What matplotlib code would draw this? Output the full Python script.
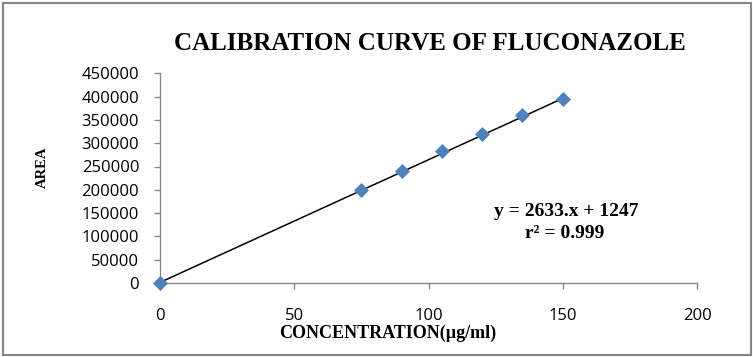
import matplotlib
matplotlib.use("Agg")
import matplotlib.pyplot as plt
from matplotlib.patches import Rectangle

# Data
concentration = [0, 75, 90, 105, 120, 135, 150]
area = [0, 199000, 241000, 283000, 319000, 360000, 395000]
slope = 2633
intercept = 1247
r_squared = 0.999
x_ticks = [0, 50, 100, 150, 200]
y_ticks = [0, 50000, 100000, 150000, 200000, 250000, 300000, 350000, 400000, 450000]

title = "CALIBRATION CURVE OF FLUCONAZOLE"
x_label = "CONCENTRATION(\u00b5g/ml)"
y_label = "AREA"

fig = plt.figure(figsize=(7.53, 3.57), dpi=100)
W, H = 753, 357
ax = fig.add_axes([160 / W, 1 - 283 / H, (697 - 160) / W, (283 - 73.3) / H])

serif_bold = dict(family=["Liberation Serif", "DejaVu Serif"], weight="bold")
tick_font = ["Open Sans", "DejaVu Sans"]

# Trendline
x_fit = [min(concentration), max(concentration)]
y_fit = [slope * x + intercept for x in x_fit]
ax.plot(x_fit, y_fit, color="black", lw=1.1, zorder=2)

ax.plot(concentration, area, linestyle="none", marker="D", markersize=7,
        color="#4F81BD", markeredgecolor="#4F81BD", markeredgewidth=0.5,
        zorder=3, clip_on=False)

ax.set_xlim(0, 200)
ax.set_ylim(0, 450000)
ax.set_xticks(x_ticks)
ax.set_yticks(y_ticks)
ax.set_xticklabels([str(v) for v in x_ticks], family=tick_font, fontsize=12)
ax.set_yticklabels([str(v) for v in y_ticks], family=tick_font, fontsize=12)

for s in ["top", "right"]:
    ax.spines[s].set_visible(False)
for s in ["left", "bottom"]:
    ax.spines[s].set_color("#868686")
    ax.spines[s].set_linewidth(1.0)
ax.tick_params(axis="both", direction="out", length=4, width=1.0, color="#868686",
               labelcolor="black")
ax.tick_params(axis="y", pad=11)
ax.tick_params(axis="x", pad=14)

fig.text(430 / W, 1 - 43 / H, title, ha="center", va="center", fontsize=18, **serif_bold)
fig.text(388 / W, 1 - 333 / H, x_label, ha="center", va="center", fontsize=13, **serif_bold)
fig.text(42 / W, 1 - 167 / H, y_label, ha="center", va="center", rotation=90,
         fontsize=10.5, **serif_bold)

eq1 = "y = {}.x + {}".format(slope, intercept)
eq2 = "r\u00b2 = {}".format(r_squared)
fig.text(566 / W, 1 - 211 / H, eq1, ha="center", va="center", fontsize=14, **serif_bold)
fig.text(565 / W, 1 - 234 / H, eq2, ha="center", va="center", fontsize=14, **serif_bold)

# Figure border
fig.patches.append(Rectangle((2.5 / W, 2.5 / H), 748 / W, 352 / H, transform=fig.transFigure,
                             fill=False, edgecolor="#868686", linewidth=1.5))

fig.savefig("out.png", dpi=100)
